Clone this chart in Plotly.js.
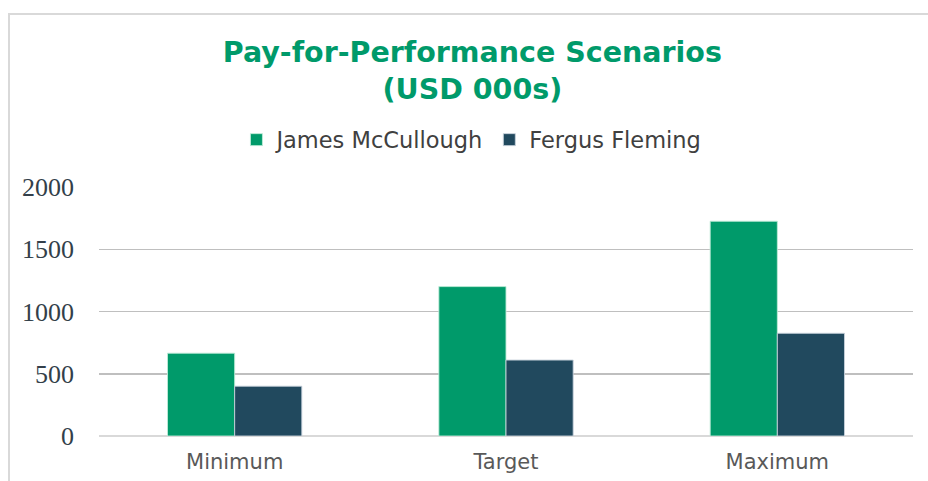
<!DOCTYPE html>
<html>
<head>
<meta charset="utf-8">
<script src="https://cdn.plot.ly/plotly-3.0.1.min.js"></script>
<style>
  html, body { margin: 0; padding: 0; background: #ffffff; }
  #frame { position: absolute; left: 8px; top: 13px; width: 940px; height: 480px;
           border-left: 2px solid #d9d9d9; border-top: 2px solid #d9d9d9; box-sizing: border-box; }
  #chart { position: absolute; left: 0; top: 0; width: 928px; height: 481px; }
</style>
</head>
<body>
<div id="frame"></div>
<div id="chart"></div>
<script>
const categories = ["Minimum", "Target", "Maximum"];
const seriesNames = ["James McCullough", "Fergus Fleming"];
const mcculloughValues = [665, 1200, 1725];
const flemingValues = [400, 610, 825];
const yTickValues = [0, 500, 1000, 1500, 2000];

const traces = [
  {
    type: "bar", name: seriesNames[0], x: categories, y: mcculloughValues,
    marker: { color: "#009A6A", line: { color: "rgba(190,235,215,0.9)", width: 1 } },
    hoverinfo: "x+y+name"
  },
  {
    type: "bar", name: seriesNames[1], x: categories, y: flemingValues,
    marker: { color: "#21495E", line: { color: "rgba(200,210,220,0.9)", width: 1 } },
    hoverinfo: "x+y+name"
  }
];

const layout = {
  width: 928, height: 481,
  paper_bgcolor: "rgba(0,0,0,0)", plot_bgcolor: "rgba(0,0,0,0)",
  margin: { l: 99, r: 15, t: 187, b: 45 },
  barmode: "group", bargap: 0.505, bargroupgap: 0,
  title: {
    text: "Pay-for-Performance Scenarios<br>(USD 000s)",
    font: { family: "DejaVu Sans", size: 28.5, color: "#009A6A", weight: 700 },
    x: 0.509, xanchor: "center", xref: "container",
    y: 1 - 62 / 481, yanchor: "middle", yref: "container"
  },
  showlegend: true,
  legend: {
    orientation: "h", xref: "container", yref: "container",
    x: 0.508, xanchor: "center", y: 1 - 140 / 481, yanchor: "middle",
    font: { family: "DejaVu Sans", size: 22.5, color: "#404040" },
    itemwidth: 30, traceorder: "normal"
  },
  xaxis: {
    type: "category", showgrid: false, showline: false, zeroline: false,
    ticks: "", ticklabelstandoff: 11,
    tickfont: { family: "DejaVu Sans", size: 21, color: "#595959" },
    fixedrange: true
  },
  yaxis: {
    range: [0, 2000], tickvals: yTickValues, ticktext: yTickValues.map(String),
    showgrid: true, gridcolor: "#bfbfbf", gridwidth: 1.5,
    zeroline: true, zerolinecolor: "#d9d9d9", zerolinewidth: 1.5,
    showline: false, ticks: "", ticklabelstandoff: 24,
    tickfont: { family: "Liberation Serif", size: 26, color: "#333f4a" },
    fixedrange: true
  }
};

Plotly.newPlot("chart", traces, layout, { displayModeBar: false, staticPlot: true });
</script>
</body>
</html>
